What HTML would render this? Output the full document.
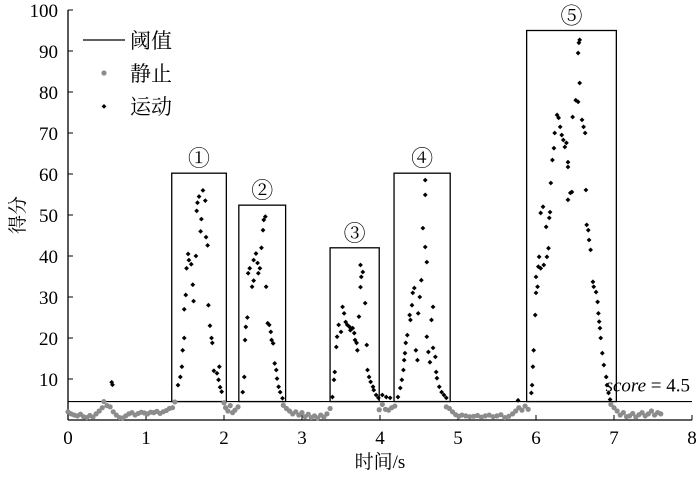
<!DOCTYPE html>
<html><head><meta charset="utf-8"><style>
html,body{margin:0;padding:0;background:#fff;}
svg{display:block;font-family:"Liberation Serif","Noto Serif CJK SC","Noto Sans CJK SC",serif;}
</style></head><body>
<svg id="chart" width="700" height="477" viewBox="0 0 700 477"></svg>
<script>
const xTicks=[0,1,2,3,4,5,6,7,8];
const yTicks=[10,20,30,40,50,60,70,80,90,100];
const threshold=4.5;
const boxStart=[1.33,2.19,3.36,4.18,5.88];
const boxEnd=[2.03,2.79,3.99,4.90,7.03];
const boxTop=[60.2,52.4,42,60.2,95];
const boxLabels=["①","②","③","④","⑤"];
const stillT=[0.00,0.04,0.08,0.12,0.16,0.20,0.24,0.28,0.32,0.36,0.40,0.44,0.46,0.50,0.54,0.58,0.62,0.66,0.70,0.74,0.78,0.82,0.86,0.90,0.94,0.98,1.02,1.06,1.10,1.14,1.18,1.22,1.26,1.30,1.34,1.37,
2.00,2.02,2.05,2.08,2.11,2.14,2.18,
2.76,2.80,2.84,2.88,2.92,2.96,3.00,3.04,3.08,3.12,3.16,3.20,3.24,3.28,3.32,3.36,
3.99,4.03,4.07,4.11,4.15,4.19,
4.85,4.89,4.93,4.97,5.01,5.05,5.10,5.15,5.20,5.25,5.30,5.35,5.40,5.45,5.50,5.55,5.60,5.65,5.70,5.74,5.78,5.82,5.86,5.90,
6.96,7.00,7.04,7.08,7.12,7.16,7.20,7.24,7.28,7.32,7.36,7.40,7.44,7.48,7.52,7.56,7.60];
const stillV=[2.0,1.5,1.2,1.0,1.4,0.8,0.6,1.1,0.7,1.5,2.2,3.0,4.5,3.5,3.2,2.0,1.2,0.6,0.5,1.0,1.5,1.8,1.2,1.6,1.9,1.7,1.5,1.9,1.8,2.1,1.6,2.0,2.3,2.8,3.0,4.4,
4.2,3.0,2.2,3.5,1.8,2.4,3.2,
3.6,2.8,2.2,1.5,2.0,1.2,1.8,0.8,1.4,0.6,1.0,0.5,1.2,0.7,1.5,2.8,
2.5,3.8,2.6,2.4,3.0,3.4,
3.2,2.8,2.0,1.3,0.9,1.2,1.0,0.8,0.9,1.1,0.7,1.0,1.2,0.8,1.0,1.3,0.6,0.9,1.5,2.2,3.0,2.4,3.4,2.6,
3.8,3.0,2.2,1.2,1.8,0.8,1.0,1.6,0.7,1.3,1.8,1.0,1.5,2.2,1.2,1.8,1.5];
const moveT=[0.56,0.57,
1.41,1.44,1.46,1.47,1.49,1.49,1.51,1.52,1.55,1.54,1.58,1.60,1.61,1.64,1.65,1.66,1.68,1.73,1.76,1.71,1.70,1.77,1.79,1.80,1.82,1.84,1.85,1.87,1.91,1.93,1.95,1.97,1.94,
2.24,2.26,2.27,2.28,2.30,2.31,2.33,2.36,2.38,2.38,2.41,2.43,2.44,2.46,2.48,2.50,2.51,2.53,2.54,2.56,2.58,2.60,2.61,2.63,2.65,2.67,2.68,2.70,2.72,2.75,
3.39,3.41,3.42,3.44,3.45,3.47,3.50,3.52,3.54,3.56,3.58,3.61,3.62,3.65,3.67,3.68,3.70,3.71,3.73,3.75,3.76,3.78,3.75,3.81,3.83,3.84,3.86,3.88,3.91,3.92,3.95,3.98,4.03,4.08,4.13,
4.23,4.26,4.28,4.30,4.31,4.32,4.33,4.35,4.38,4.39,4.41,4.42,4.44,4.46,4.48,4.49,4.51,4.53,4.58,4.58,4.55,4.58,4.60,4.60,4.62,4.64,4.66,4.68,4.68,4.71,4.72,4.73,4.76,4.79,4.82,4.85,
5.77,
5.94,5.95,5.96,5.97,5.99,6.00,6.02,6.00,6.03,6.06,6.04,6.10,6.14,6.16,6.06,6.09,6.13,6.17,6.18,6.19,6.21,6.23,6.24,6.27,6.29,6.31,6.33,6.35,6.37,6.39,6.41,6.41,6.41,6.44,6.46,6.47,6.51,6.54,6.56,6.54,6.56,6.55,6.59,6.61,6.63,6.64,6.65,6.67,6.68,6.70,6.73,6.74,6.77,6.79,6.80,6.81,6.82,6.83,6.85,6.87,6.90,6.91,6.93,6.95];
const moveV=[9.2,8.6,
8.5,10.5,13,17,20,27,30.5,37,39,40.5,38,33,29,40,51,53,54.5,56,53.5,49,46,44.6,42.6,28,23,20,18.8,12,11.4,9.8,8,6.9,13,
6.8,10.5,19.5,22.7,25,35.8,37,32.5,34,39,40.6,38.3,35.8,37,42,46.3,48.8,49.6,32.5,23.6,23.2,21.5,19.5,18.7,13.8,12.2,10.1,8.1,6.8,5.3,
5.6,9.8,11.7,17.8,20.3,23.2,21.5,27.6,26,23.9,23.2,22.7,21.9,22.4,21.2,19.5,18.8,17,25.2,32.4,34.9,36.1,37.8,28.5,18.3,12.2,10.5,9.3,8.1,7.3,6.1,5.4,6.1,5.6,5.4,
5.6,7.8,9.8,12.2,14.6,16.3,18.8,20.7,25.6,24.4,28,31,32.2,17,14.6,26,30,34.1,58.5,54.9,46.8,42.2,38.5,20.3,16.6,14.1,24.4,27.6,17.6,15.4,11.7,10.2,8.1,6.8,6.1,5.4,
4.8,
6.6,8.5,13,17,25.6,31,32.5,34.9,37.4,37,39.8,37.8,39.8,41.9,50.5,52,47.1,49.3,50.7,57.8,63.4,66.3,70,74.4,73.7,71.5,69.5,68.3,66.6,67.6,62.9,61.7,53.7,55.4,55.6,73.9,78,77.6,82.2,89.5,92.7,92,73.2,71.5,70,56.1,47.6,46.3,43.9,41.5,33.7,32.5,31.2,28.8,26,24,22.4,20,16.3,13.4,10.5,8.5,6.6,5];

const X0=68,X1=692,Y0=420,Y1=10;
const sx=t=>X0+(X1-X0)*t/8;
const sy=v=>Y0-(Y0-Y1)*v/100;
const svg=document.getElementById('chart');
const NS='http://www.w3.org/2000/svg';
function mk(tag,attrs,parent){const e=document.createElementNS(NS,tag);for(const k in attrs)e.setAttribute(k,attrs[k]);(parent||svg).appendChild(e);return e;}

// axes
let ax=mk('line',{x1:X0,y1:Y0,x2:X1,y2:Y0,stroke:'#000','stroke-width':1.3});


let ay=mk('line',{x1:X0,y1:Y0,x2:X0,y2:Y1,stroke:'#000','stroke-width':1.3});


xTicks.forEach(t=>{
  let l=mk('line',{x1:sx(t),y1:Y0,x2:sx(t),y2:Y0-5,stroke:'#000','stroke-width':1});
  
  
  let tx=mk('text',{x:sx(t),y:Y0+24,'font-size':19,'text-anchor':'middle'});
  tx.textContent=t;
  
  
});
yTicks.forEach(v=>{
  let l=mk('line',{x1:X0,y1:sy(v),x2:X0+5,y2:sy(v),stroke:'#000','stroke-width':1});
  
  
  let tx=mk('text',{x:X0-10,y:sy(v)+7,'font-size':19,'text-anchor':'end'});
  tx.textContent=v;
  
  
});
let x0l=mk('text',{x:55,y:Y0+24,'font-size':19,'text-anchor':'middle'});
x0l.textContent='';
let xt=mk('text',{x:380,y:468,'font-size':19,'text-anchor':'middle'});
xt.textContent='时间/s';


let yt=mk('text',{x:0,y:0,'font-size':19,'text-anchor':'middle',transform:'translate(24,215) rotate(-90)'});
yt.textContent='得分';



// threshold
let th=mk('line',{x1:X0,y1:sy(threshold),x2:X1,y2:sy(threshold),stroke:'#000','stroke-width':1.2});


let st=mk('text',{x:690,y:sy(threshold)-10,'font-size':19,'text-anchor':'end'});
st.innerHTML='<tspan font-style="italic">score</tspan> = 4.5';



// boxes
boxStart.forEach((s,i)=>{
  let r=mk('rect',{x:sx(s),y:sy(boxTop[i]),width:sx(boxEnd[i])-sx(s),height:sy(threshold)-sy(boxTop[i]),fill:'none',stroke:'#000','stroke-width':1.3});
  
  
  let tx=mk('text',{x:(sx(s)+sx(boxEnd[i]))/2,y:sy(boxTop[i])-7,'font-size':22,'text-anchor':'middle'});
  tx.textContent=boxLabels[i];
  
  
});

// still points
stillT.forEach((t,i)=>{
  let c=mk('circle',{cx:sx(t),cy:sy(stillV[i]),r:2.6,fill:'#8c8c8c'});
  
  
});
// moving points
moveT.forEach((t,i)=>{
  const x=sx(t),y=sy(moveV[i]),d=2.4;
  let p=mk('polygon',{points:`${x},${y-d} ${x+d},${y} ${x},${y+d} ${x-d},${y}`,fill:'#000'});
  
  
});

// legend
let lg=mk('g',{});


let ll=mk('line',{x1:83,y1:40,x2:125,y2:40,stroke:'#000','stroke-width':1.3},lg);


let l1=mk('text',{x:130,y:48,'font-size':21},lg);l1.textContent='阈值';


let lc=mk('circle',{cx:104,cy:73,r:2.6,fill:'#8c8c8c'},lg);


let l2=mk('text',{x:130,y:81,'font-size':21},lg);l2.textContent='静止';


let ld=mk('polygon',{points:'104,104 106.4,106.4 104,108.8 101.6,106.4',fill:'#000'},lg);


let l3=mk('text',{x:130,y:114,'font-size':21},lg);l3.textContent='运动';


</script>
</body></html>
